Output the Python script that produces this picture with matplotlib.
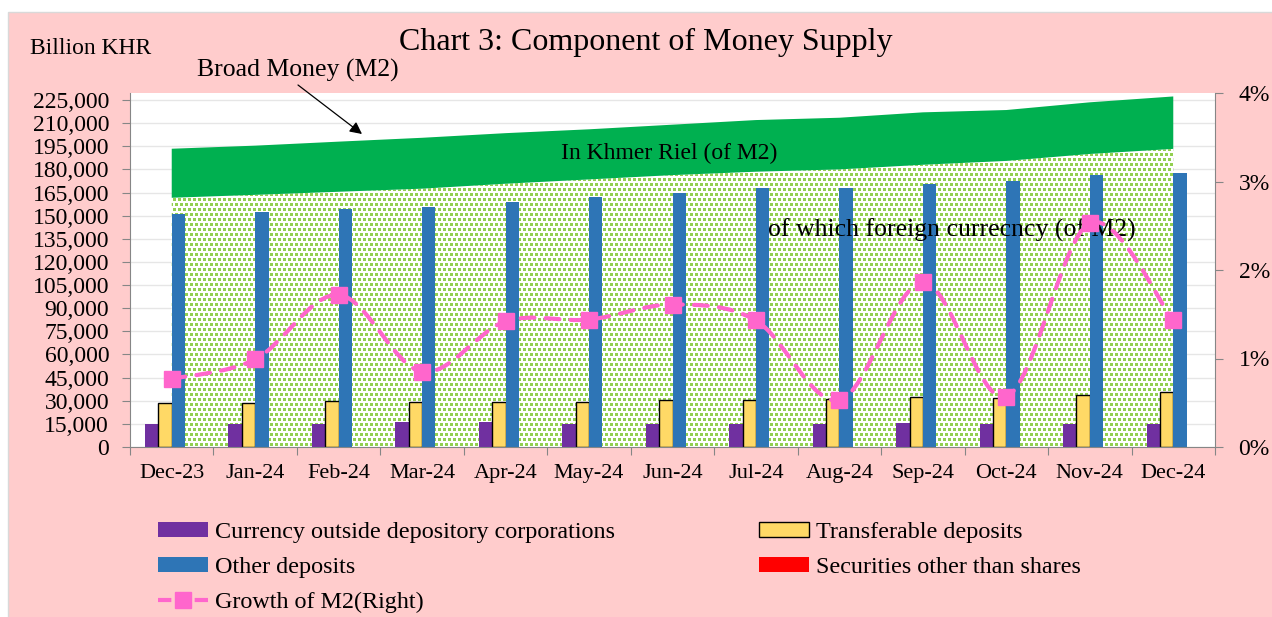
import numpy as np
import matplotlib
matplotlib.use('Agg')
import matplotlib.pyplot as plt
from matplotlib.patches import Rectangle, Patch, PathPatch
from matplotlib.lines import Line2D
from matplotlib.path import Path
from matplotlib.ticker import FuncFormatter, MultipleLocator

plt.rcParams['font.family'] = ['Liberation Serif', 'DejaVu Serif']

months = ['Dec-23', 'Jan-24', 'Feb-24', 'Mar-24', 'Apr-24', 'May-24', 'Jun-24',
          'Jul-24', 'Aug-24', 'Sep-24', 'Oct-24', 'Nov-24', 'Dec-24']

# billion KHR
currency_outside = [15000, 15000, 15200, 16000, 16000, 15100, 15100,
                    14900, 15100, 15700, 14900, 14900, 14700]
transferable = [28300, 28300, 29600, 29000, 28900, 29200, 30500,
                30500, 30900, 32200, 31900, 33700, 35700]
other_deposits = [150900, 152600, 154100, 155800, 159100, 162300, 164900,
                  167700, 167900, 170500, 172500, 176400, 177700]
securities = [0, 0, 0, 0, 0, 0, 0, 0, 0, 0, 0, 0, 0]

# area series: total M2 and the foreign currency part of it
m2_total = [193400, 195400, 198000, 200500, 203500, 206000, 209000,
            212000, 213500, 217000, 218500, 223500, 227300]
m2_foreign = [161600, 163500, 165500, 167500, 170700, 173500, 176300,
              178500, 180000, 183000, 185500, 190000, 193300]

# growth of M2, percent (right axis)
m2_growth = [0.77, 0.99, 1.72, 0.85, 1.42, 1.44, 1.61,
             1.43, 0.53, 1.86, 0.57, 2.53, 1.43]

PINK_BG = '#FFCCCC'
C_CUR = '#7030A0'
C_TRA = '#FFD966'
C_OTH = '#2E75B6'
C_SEC = '#FF0000'
C_KHR = '#00B050'
C_DOT = '#92D050'
C_GRO = '#FF66CC'


def smooth_path(xs, ys):
    # catmull-rom style bezier, like excel's smoothed line
    pts = np.column_stack([xs, ys]).astype(float)
    n = len(pts)
    verts = [pts[0]]
    codes = [Path.MOVETO]
    for i in range(n - 1):
        p0 = pts[i - 1] if i > 0 else pts[i]
        p1 = pts[i]
        p2 = pts[i + 1]
        p3 = pts[i + 2] if i + 2 < n else pts[i + 1]
        c1 = p1 + (p2 - p0) / 6.0
        c2 = p2 - (p3 - p1) / 6.0
        verts += [c1, c2, p2]
        codes += [Path.CURVE4] * 3
    return Path(verts, codes)


def main():
    fig = plt.figure(figsize=(12.72, 6.17), dpi=100, facecolor='white')
    fig.patches.append(Rectangle((8 / 1272, -0.1), 1, 1.1 - 12 / 617,
                                 transform=fig.transFigure, facecolor=PINK_BG,
                                 edgecolor='#D9D9D9', lw=1, zorder=-10))

    ax = fig.add_axes([130 / 1272, 170 / 617, 1085 / 1272, 354 / 617])
    ax.set_facecolor('white')
    x = np.arange(len(months))
    ymax = 225000 * 354 / 347
    ax.set_xlim(-0.5, len(months) - 0.5)
    ax.set_ylim(0, ymax)

    # dotted area (foreign currency) - small staggered squares clipped to the area
    fc = ax.fill_between(x, 0, m2_foreign, facecolor='none', lw=0, zorder=1)
    h, w = 354, 1085
    ii, jj = np.mgrid[0:h, 0:w]
    mask = (ii % 5 < 3) & ((jj + 2 * ((ii // 5) % 2)) % 5 < 3)
    tex = np.ones((h, w, 3))
    tex[mask] = matplotlib.colors.to_rgb(C_DOT)
    im = ax.imshow(tex, extent=(-0.5, len(months) - 0.5, 0, ymax),
                   aspect='auto', interpolation='nearest', zorder=1)
    im.set_clip_path(fc.get_paths()[0], transform=ax.transData)
    ax.fill_between(x, m2_foreign, m2_total, facecolor=C_KHR, lw=0, zorder=1)

    bw = 0.16
    ax.bar(x - 1.5 * bw, currency_outside, bw, color=C_CUR, zorder=2)
    ax.bar(x - 0.5 * bw, transferable, bw, color=C_TRA, edgecolor='black', lw=1, zorder=2)
    ax.bar(x + 0.5 * bw, other_deposits, bw, color=C_OTH, zorder=2)
    ax.bar(x + 1.5 * bw, securities, bw, color=C_SEC, zorder=2)

    ax.yaxis.set_major_locator(MultipleLocator(15000))
    ax.yaxis.set_major_formatter(FuncFormatter(lambda v, p: f'{v:,.0f}'))
    ax.grid(axis='y', color='#E6E6E6', lw=1, zorder=0)
    ax.set_axisbelow(True)
    ax.set_xticks(np.arange(len(months) + 1) - 0.5)
    ax.set_xticklabels([])
    ax.set_xticks(x, minor=True)
    ax.set_xticklabels(months, minor=True)
    ax.tick_params(axis='x', which='minor', length=0, pad=12, labelsize=16)
    ax.tick_params(axis='x', which='major', length=6, color='#868686', direction='out')
    ax.tick_params(axis='y', length=6, color='#868686', labelsize=17, pad=9)
    for s in ['top', 'right']:
        ax.spines[s].set_visible(False)
    for s in ['left', 'bottom']:
        ax.spines[s].set_color('#868686')

    ax.text(669 / 1272, 1 - 153 / 617, 'In Khmer Riel (of M2)', transform=fig.transFigure,
            ha='center', va='center', fontsize=17, zorder=5)
    ax.text(952 / 1272, 1 - 230 / 617, 'of which foreign currecncy (of M2)',
            transform=fig.transFigure, ha='center', va='center', fontsize=18.5, zorder=5)

    ax2 = ax.twinx()
    ax2.set_ylim(0, 4)
    ax2.yaxis.set_major_locator(MultipleLocator(1))
    ax2.yaxis.set_major_formatter(FuncFormatter(lambda v, p: f'{v:.0f}%'))
    ax2.tick_params(axis='y', length=6, color='#868686', labelsize=17, pad=11)
    for s in ['top', 'left', 'bottom']:
        ax2.spines[s].set_visible(False)
    ax2.spines['right'].set_color('#868686')
    ax2.add_patch(PathPatch(smooth_path(x, m2_growth), fill=False, edgecolor=C_GRO,
                            lw=3, linestyle=(0, (3.3, 2.7)), capstyle='round'))
    ax2.plot(x, m2_growth, ls='none', marker='s', ms=11, color=C_GRO)

    fig.text(646 / 1272, 1 - 42 / 617, 'Chart 3: Component of Money Supply',
             ha='center', va='center', fontsize=23)
    fig.text(30 / 1272, 1 - 48 / 617, 'Billion KHR', ha='left', va='center', fontsize=17)
    fig.text(298 / 1272, 1 - 70 / 617, 'Broad Money (M2)', ha='center', va='center', fontsize=18.5)
    ax.annotate('', xy=(362 / 1272, 1 - 134 / 617), xycoords='figure fraction',
                xytext=(298 / 1272, 1 - 85 / 617), textcoords='figure fraction',
                arrowprops=dict(arrowstyle='-|>', color='black', lw=0.9, mutation_scale=18,
                                shrinkA=0, shrinkB=0))

    leg_kw = dict(frameon=False, fontsize=17.4, handlelength=2.05, handleheight=0.55,
                  handletextpad=0.3, labelspacing=0.58, borderpad=0, borderaxespad=0,
                  loc='upper left')
    h1 = [Patch(facecolor=C_CUR), Patch(facecolor=C_OTH),
          Line2D([], [], color=C_GRO, lw=3, ls=(0, (3.2, 1.2)), marker='s', ms=11)]
    fig.legend(h1, ['Currency outside depository corporations', 'Other deposits',
                    'Growth of M2(Right)'], bbox_to_anchor=(158 / 1272, 1 - 522 / 617), **leg_kw)
    h2 = [Patch(facecolor=C_TRA, edgecolor='black', lw=1), Patch(facecolor=C_SEC)]
    fig.legend(h2, ['Transferable deposits', 'Securities other than shares'],
               bbox_to_anchor=(759 / 1272, 1 - 522 / 617), **leg_kw)

    fig.savefig('out.png', dpi=100, facecolor=fig.get_facecolor())


if __name__ == '__main__':
    main()
